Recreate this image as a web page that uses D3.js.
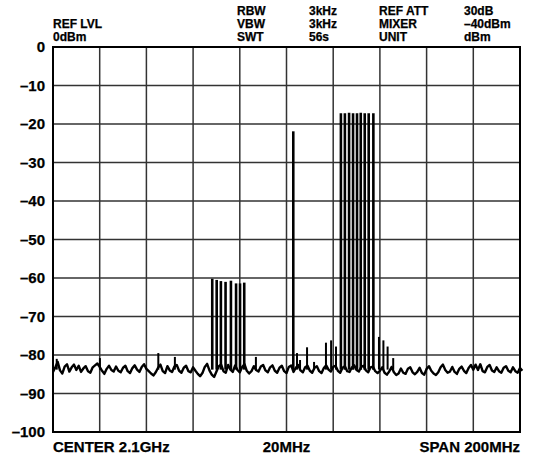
<!DOCTYPE html>
<html>
<head>
<meta charset="utf-8">
<script src="https://cdn.jsdelivr.net/npm/d3@7"></script>
<style>
  body { margin: 0; background: #fff; }
  svg text { font-family: "Liberation Sans", Arial, sans-serif; font-weight: bold; fill: #000; stroke: #000; stroke-width: 0.25px; }
</style>
</head>
<body>
<svg id="chart" width="535" height="456"></svg>
<script>
// spectrum analyser screen, 2.0 - 2.2 GHz, level in dBm

const startFreq = 2000; // MHz
const stepFreq = 1;     // MHz between noise samples

// noise floor trace, one value per MHz
const noiseLevels = [
  -84.4,-83.2,-81.8,-84.0,-84.8,-83.0,-82.4,-84.3,-83.2,-82.5,-83.9,
  -82.8,-84.4,-83.5,-82.9,-84.2,-84.6,-83.2,-82.7,-82.2,-83.1,
  -84.1,-84.9,-83.6,-82.8,-83.9,-84.3,-83.0,-84.1,-84.5,-83.3,
  -82.8,-84.2,-84.7,-83.4,-82.7,-83.8,-84.4,-83.1,-82.4,-83.6,
  -84.2,-84.8,-85.3,-84.5,-83.3,-82.5,-84.2,-84.7,-82.9,-84.0,
  -84.4,-83.0,-82.6,-84.1,-84.6,-83.3,-82.8,-84.2,-84.5,-83.2,
  -84.1,-84.9,-85.5,-84.7,-83.1,-82.3,-84.0,-85.1,-85.7,-84.3,
  -82.9,-82.5,-84.2,-84.6,-82.6,-83.8,-84.4,-82.7,-83.9,-84.5,
  -83.1,-82.4,-84.1,-84.8,-84.2,-82.9,-83.9,-84.3,-83.0,-82.6,
  -84.0,-84.5,-83.2,-82.7,-84.1,-84.6,-83.3,-82.8,-84.2,-84.7,
  -83.1,-82.7,-84.4,-83.3,-82.6,-84.0,-84.5,-83.2,-82.8,-84.1,
  -84.6,-83.3,-82.9,-84.2,-84.7,-83.4,-82.7,-83.8,-84.3,-83.1,
  -82.8,-84.1,-84.6,-83.3,-82.9,-84.2,-84.4,-83.2,-82.7,-83.9,
  -84.3,-83.1,-82.8,-84.0,-84.5,-83.2,-83.0,-84.2,-84.7,-84.1,
  -83.2,-84.6,-85.1,-84.3,-83.1,-84.5,-85.2,-84.8,-83.5,-84.6,
  -84.9,-83.6,-83.2,-84.5,-85.0,-84.4,-83.3,-84.7,-85.1,-83.6,
  -82.9,-84.1,-84.8,-85.2,-84.5,-83.2,-82.5,-83.9,-84.6,-84.3,
  -83.1,-84.4,-84.9,-83.6,-83.0,-84.1,-84.7,-83.4,-82.6,-83.8,
  -82.5,-83.9,-82.4,-84.2,-84.5,-83.1,-82.6,-84.0,-84.4,-83.2,
  -84.2,-84.6,-83.3,-82.9,-84.1,-84.5,-83.2,-84.2,-84.6,-83.4,-84.1
];

// carriers
const toneFreqs  = [2068.2, 2070.1, 2071.9, 2073.9, 2076.2, 2078.4, 2080.1, 2081.9,
                    2102.9,
                    2123.3, 2125.0, 2126.8, 2128.5, 2130.2, 2131.8, 2133.5, 2135.2, 2137.2];
const toneLevels = [-60.2, -60.5, -60.8, -61.0, -60.7, -61.4, -61.4, -61.2,
                    -21.9,
                    -17.2, -17.2, -17.1, -17.2, -17.2, -17.1, -17.2, -17.2, -17.2];

// small spurs sticking out of the floor
const spurFreqs  = [2001.6, 2020.1, 2045.1, 2052.2, 2086.9, 2104.5, 2105.8, 2108.8,
                    2111.8, 2116.9, 2119.1, 2121.2, 2139.6, 2141.5, 2143.3, 2145.7];
const spurLevels = [-81.0, -80.8, -79.5, -80.5, -80.5, -79.5, -81.3, -78.0,
                    -81.8, -76.8, -76.2, -77.8, -75.3, -76.2, -77.8, -80.8];

const floorLevel = -83.8;

const yTicks = [0, -10, -20, -30, -40, -50, -60, -70, -80, -90, -100];
const xGrid = [2000, 2020, 2040, 2060, 2080, 2100, 2120, 2140, 2160, 2180, 2200];

const headerCols = [
  { x: 53,  lines: ["", "REF LVL", "0dBm"] },
  { x: 237, lines: ["RBW", "VBW", "SWT"] },
  { x: 309, lines: ["3kHz", "3kHz", "56s"] },
  { x: 379, lines: ["REF ATT", "MIXER", "UNIT"] },
  { x: 464, lines: ["30dB", "\u201340dBm", "dBm"] }
];

const svg = d3.select("#chart");
const plotLeft = 53, plotRight = 520, plotTop = 47, plotBottom = 432;

const x = d3.scaleLinear().domain([2000, 2200]).range([plotLeft, plotRight]);
const y = d3.scaleLinear().domain([-100, 0]).range([plotBottom, plotTop]);

// grid
svg.append("g")
  .selectAll("line")
  .data(xGrid.slice(1, -1))
  .enter().append("line")
  .attr("x1", d => x(d)).attr("x2", d => x(d))
  .attr("y1", plotTop).attr("y2", plotBottom)
  .attr("stroke", "#333").attr("stroke-width", 1.5);

svg.append("g")
  .selectAll("line")
  .data(yTicks.slice(1, -1))
  .enter().append("line")
  .attr("x1", plotLeft).attr("x2", plotRight)
  .attr("y1", d => y(d)).attr("y2", d => y(d))
  .attr("stroke", "#333").attr("stroke-width", 1.5);

// tick labels on the left
svg.append("g")
  .selectAll("text")
  .data(yTicks)
  .enter().append("text")
  .attr("x", 45)
  .attr("y", d => y(d))
  .attr("dy", "0.36em")
  .attr("text-anchor", "end")
  .style("font-size", "15px")
  .text(d => d === 0 ? "0" : "\u2013" + Math.abs(d));

// noise floor
const noisePts = noiseLevels.map((v, i) => [startFreq + i * stepFreq, v]);
const line = d3.line().x(d => x(d[0])).y(d => y(d[1]));
svg.append("path")
  .attr("d", line(noisePts))
  .attr("fill", "none")
  .attr("stroke", "#000")
  .attr("stroke-width", 2.4)
  .attr("stroke-linejoin", "round");

// spurs
svg.append("g")
  .selectAll("line")
  .data(spurFreqs)
  .enter().append("line")
  .attr("x1", d => x(d)).attr("x2", d => x(d))
  .attr("y1", y(floorLevel))
  .attr("y2", (d, i) => y(spurLevels[i]))
  .attr("stroke", "#000").attr("stroke-width", 2);

// carriers
svg.append("g")
  .selectAll("line")
  .data(toneFreqs)
  .enter().append("line")
  .attr("x1", d => x(d)).attr("x2", d => x(d))
  .attr("y1", y(floorLevel))
  .attr("y2", (d, i) => y(toneLevels[i]))
  .attr("stroke", "#000").attr("stroke-width", 2.6);

// frame
svg.append("rect")
  .attr("x", plotLeft).attr("y", plotTop)
  .attr("width", plotRight - plotLeft).attr("height", plotBottom - plotTop)
  .attr("fill", "none").attr("stroke", "#000").attr("stroke-width", 2);

// header block
headerCols.forEach(col => {
  col.lines.forEach((t, i) => {
    if (!t) return;
    svg.append("text")
      .attr("x", col.x)
      .attr("y", 15 + i * 13)
      .style("font-size", "12px")
      .text(t);
  });
});

// bottom labels
svg.append("text").attr("x", plotLeft).attr("y", 452)
  .style("font-size", "15px").text("CENTER 2.1GHz");
svg.append("text").attr("x", x(2100)).attr("y", 452).attr("text-anchor", "middle")
  .style("font-size", "15px").text("20MHz");
svg.append("text").attr("x", plotRight).attr("y", 452).attr("text-anchor", "end")
  .style("font-size", "15px").text("SPAN 200MHz");
</script>
</body>
</html>
